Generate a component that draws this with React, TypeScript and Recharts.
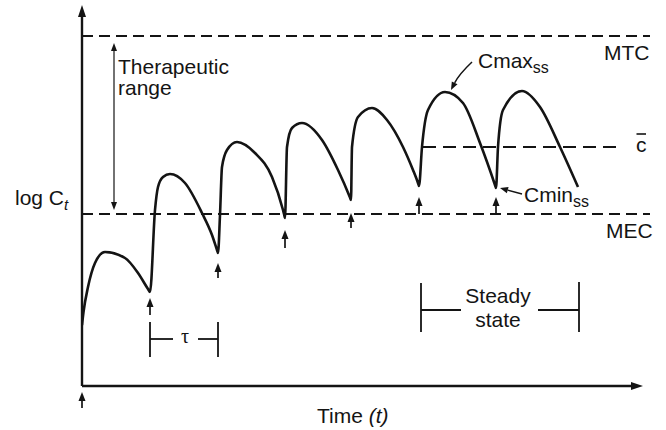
import { ComposedChart, Line, XAxis, YAxis, ReferenceLine, ReferenceDot } from 'recharts';

// time (arbitrary units) and log concentration
const curveTime = [
  0, 0.15, 0.6, 1.3, 2.3, 4.3, 5.6, 6.6, 6.8,
  7.3, 7.6, 8.1, 8.8, 10.3, 12.0, 13.0, 13.5, 13.6,
  13.8, 14.0, 14.5, 15.5, 17.3, 19.0, 20.1, 20.2, 20.3,
  20.5, 21.0, 22.0, 24.0, 25.6, 26.8, 26.9,
  27.0, 27.6, 29.0, 30.5, 32.1, 33.1, 33.6, 33.7,
  34.0, 34.6, 36.3, 38.1, 39.8, 41.3, 41.4,
  41.6, 42.1, 44.0, 45.8, 47.8, 49.6,
];
const curveLogC = [
  6.1, 7.4, 9.9, 12.3, 13.4, 12.8, 11.3, 9.7, 9.4,
  17.6, 19.9, 20.9, 21.2, 20.3, 17.3, 15.1, 13.6, 13.3,
  17.1, 21.9, 23.6, 24.4, 23.3, 20.9, 17.6, 17.2, 16.8,
  23.9, 25.8, 26.3, 24.6, 21.6, 18.85, 18.6,
  23.9, 26.9, 27.8, 26.6, 23.9, 21.6, 20.3, 20.0,
  23.9, 27.6, 29.4, 28.3, 24.3, 20.1, 19.8,
  23.9, 27.6, 29.5, 27.9, 23.9, 19.9,
];

// dosing times and the small arrows under each dose
const doseTimes = [0, 6.8, 13.6, 20.3, 26.9, 33.7, 41.4];
const doseArrowTip = [-0.6, 8.8, 12.3, 15.6, 17.3, 18.9, 18.9];
const doseArrowTail = [-2.2, 7.1, 10.8, 13.8, 15.8, 17.2, 17.2];

// horizontal levels
const MTC = 35.0;
const MEC = 17.2;
const C_BAR = 23.9;

const X_MAX = 56;
const Y_MAX = 38;

const data = curveTime.map((t, i) => ({ t, c: curveLogC[i] }));

const FONT = '"Liberation Sans", Arial, Helvetica, sans-serif';
const INK = '#141414';
const FS = 21;

const arrowShape =
  (opts: { len?: number; half?: number; width?: number; both?: boolean; bend?: number; color?: string }) =>
  (p: any) => {
    const { x1, y1, x2, y2 } = p;
    const len = opts.len ?? 8;
    const half = opts.half ?? 3.2;
    const color = opts.color ?? INK;
    const bend = opts.bend ?? 0;
    const mx = (x1 + x2) / 2;
    const my = (y1 + y2) / 2;
    const dx = x2 - x1;
    const dy = y2 - y1;
    const d = Math.hypot(dx, dy) || 1;
    const cx = mx + (-dy / d) * bend;
    const cy = my + (dx / d) * bend;
    const head = (tx: number, ty: number, fx: number, fy: number) => {
      const l = Math.hypot(tx - fx, ty - fy) || 1;
      const ux = (tx - fx) / l;
      const uy = (ty - fy) / l;
      const bx = tx - ux * len;
      const by = ty - uy * len;
      return {
        pts: `${tx},${ty} ${bx - uy * half},${by + ux * half} ${bx + uy * half},${by - ux * half}`,
        bx,
        by,
      };
    };
    const h2 = head(x2, y2, cx, cy);
    const h1 = opts.both ? head(x1, y1, cx, cy) : null;
    const sx = h1 ? h1.bx : x1;
    const sy = h1 ? h1.by : y1;
    return (
      <g>
        <path
          d={bend ? `M${sx},${sy} Q${cx},${cy} ${h2.bx},${h2.by}` : `M${sx},${sy} L${h2.bx},${h2.by}`}
          stroke={color}
          strokeWidth={opts.width ?? 1.6}
          fill="none"
        />
        <polygon points={h2.pts} fill={color} />
        {h1 && <polygon points={h1.pts} fill={color} />}
      </g>
    );
  };

const note = (
  key: string,
  x: number,
  y: number,
  content: any,
  anchor: 'start' | 'middle' | 'end' = 'start',
  size = FS,
  family = FONT,
) => (
  <ReferenceDot
    key={key}
    x={x}
    y={y}
    r={0}
    ifOverflow="visible"
    shape={(p: any) => (
      <text x={p.cx} y={p.cy} textAnchor={anchor} fontFamily={family} fontSize={size} fill={INK}>
        {content}
      </text>
    )}
  />
);

const seg = (key: string, x1: number, y1: number, x2: number, y2: number, width = 1.8, dash?: string) => (
  <ReferenceLine
    key={key}
    segment={[{ x: x1, y: y1 }, { x: x2, y: y2 }]}
    stroke={INK}
    strokeWidth={width}
    strokeDasharray={dash}
    ifOverflow="visible"
  />
);

const arrow = (key: string, x1: number, y1: number, x2: number, y2: number, opts: any = {}) => (
  <ReferenceLine
    key={key}
    segment={[{ x: x1, y: y1 }, { x: x2, y: y2 }]}
    ifOverflow="visible"
    shape={arrowShape(opts)}
  />
);

export default function App() {
  return (
    <div style={{ position: 'absolute', left: 0, top: 0, background: '#fff' }}>
      <ComposedChart width={666} height={430} data={data} margin={{ top: 6, right: 24, bottom: 44, left: 82 }}>
        <XAxis dataKey="t" type="number" domain={[0, X_MAX]} allowDataOverflow hide />
        <YAxis type="number" domain={[0, Y_MAX]} allowDataOverflow hide />

        {/* axes with arrowheads */}
        {arrow('yax', 0, 0, 0, 38.1, { len: 12, half: 4, width: 2.4 })}
        {arrow('xax', 0, 0, 56.1, 0, { len: 12, half: 4, width: 2.4 })}

        {/* MTC / MEC / mean levels */}
        {seg('mtc', 0, MTC, 56.8, MTC, 2, '11 6')}
        {seg('mec', 0, MEC, 56.8, MEC, 2, '11 6')}
        {seg('cbar', 34.1, C_BAR, 54.1, C_BAR, 2, '13 7')}

        {/* therapeutic range */}
        {arrow('tr', 3.2, 17.6, 3.2, 34.3, { both: true, len: 8, half: 3, width: 1.2 })}

        {/* dose arrows */}
        {doseTimes.map((t, i) => arrow(`dose${i}`, t, doseArrowTail[i], t, doseArrowTip[i], { len: 9, half: 3.5, width: 1.7 }))}

        {/* tau bracket */}
        {seg('tauL', doseTimes[1], 6.4, doseTimes[1], 2.9)}
        {seg('tauR', doseTimes[2], 6.4, doseTimes[2], 2.9)}
        {seg('tauH1', doseTimes[1], 4.7, 9.1, 4.7)}
        {seg('tauH2', 11.6, 4.7, doseTimes[2], 4.7)}

        {/* steady state bracket */}
        {seg('ssL', 33.9, 10.3, 33.9, 5.4)}
        {seg('ssR', 49.7, 10.4, 49.7, 5.4)}
        {seg('ssH1', 33.9, 7.6, 37.9, 7.6)}
        {seg('ssH2', 45.6, 7.6, 49.7, 7.6)}

        {/* Cmax / Cmin pointers */}
        {arrow('cmax', 39.0, 32.4, 36.9, 29.6, { len: 8, half: 3.2, width: 1.5, bend: 3 })}
        {arrow('cmin', 44.0, 19.2, 41.8, 19.8, { len: 8, half: 3.2, width: 1.5 })}

        <Line
          type="monotone"
          dataKey="c"
          stroke={INK}
          strokeWidth={2.6}
          dot={false}
          activeDot={false}
          isAnimationActive={false}
        />

        {note('ther', 3.6, 31.2, 'Therapeutic')}
        {note('range', 3.6, 29.1, 'range')}
        {note(
          'logc',
          -6.7,
          18.1,
          <>
            log C
            <tspan fontSize={15} dy={5} fontStyle="italic">
              t
            </tspan>
          </>,
        )}
        {note('mtcL', 52.2, 32.6, 'MTC')}
        {note('mecL', 52.4, 14.8, 'MEC')}
        {note('cbarL', 55.4, 23.4, 'c')}
        {seg('cbarBar', 55.45, 25.2, 56.4, 25.2, 1.6)}
        {note(
          'cmaxL',
          39.6,
          31.8,
          <>
            Cmax
            <tspan fontSize={16} dy={5}>
              ss
            </tspan>
          </>,
        )}
        {note(
          'cminL',
          44.2,
          18.4,
          <>
            Cmin
            <tspan fontSize={16} dy={5}>
              ss
            </tspan>
          </>,
        )}
        {note('steady', 41.6, 8.3, 'Steady', 'middle')}
        {note('state', 41.6, 5.9, 'state', 'middle')}
        {note('tau', 10.3, 4.3, 'τ', 'middle', 20, '"Liberation Serif", "DejaVu Serif", serif')}
        {note(
          'time',
          23.5,
          -3.7,
          <>
            Time <tspan fontStyle="italic">(t)</tspan>
          </>,
        )}
      </ComposedChart>
    </div>
  );
}
